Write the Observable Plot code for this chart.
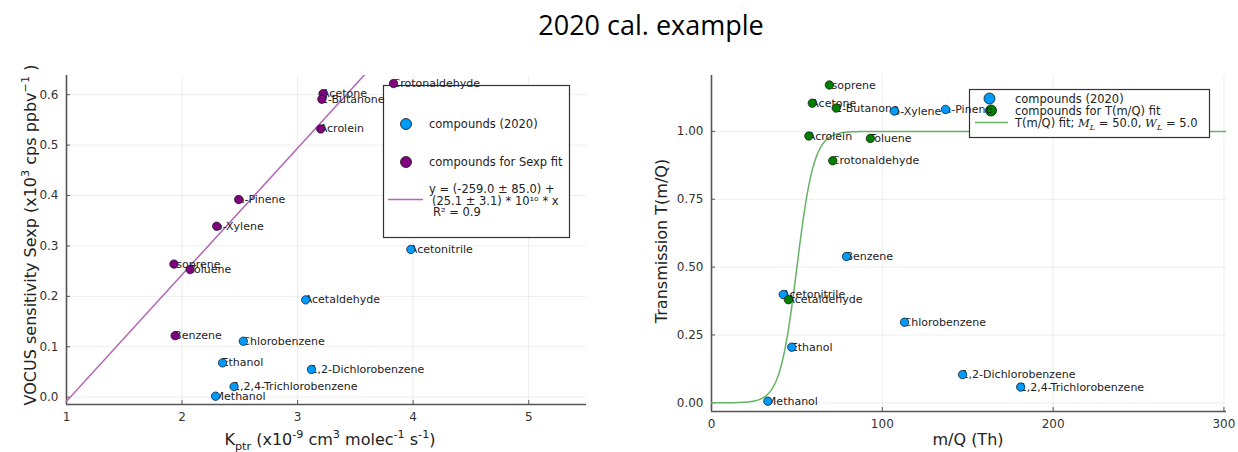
<!DOCTYPE html>
<html><head><meta charset="utf-8">
<script src="https://cdn.jsdelivr.net/npm/d3@7"></script>
<script src="https://cdn.jsdelivr.net/npm/@observablehq/plot@0.6"></script>
<style>
html,body{margin:0;padding:0;background:#fff;}
#wrap{position:relative;width:1238px;height:452px;overflow:hidden;background:#fff;}
#title{position:absolute;left:32px;top:0;width:1238px;height:50px;line-height:50px;text-align:center;font-family:"Open Sans";font-size:27px;color:#000;}
#left{position:absolute;left:0;top:50px;}
#right{position:absolute;left:620px;top:50px;}
</style></head><body>
<div id="wrap"><div id="title">2020 cal. example</div><div id="left"></div><div id="right"></div></div>
<script>
// ---------- data ----------
const compounds = ["Methanol","Acetonitrile","Acetaldehyde","Ethanol","Acrolein","Acetone","Isoprene","Crotonaldehyde","2-Butanone","Benzene","Toluene","o-Xylene","Chlorobenzene","a-Pinene","1,2-Dichlorobenzene","1,2,4-Trichlorobenzene"];
const mq = [33,42,45,47,57,59,69,71,73,79,93,107,113,137,147,181];
const kptr = [2.29,3.98,3.07,2.35,3.20,3.22,1.93,3.83,3.21,1.94,2.07,2.30,2.53,2.49,3.12,2.45];
const sexp = [0.002,0.293,0.193,0.068,0.532,0.602,0.264,0.622,0.591,0.122,0.253,0.339,0.111,0.392,0.055,0.021];
const transmission = [0.006,0.399,0.380,0.205,0.983,1.104,1.171,0.892,1.086,0.539,0.974,1.075,0.297,1.081,0.104,0.058];
const inSexpFit = [false,false,false,false,true,true,true,true,true,true,true,true,false,true,false,false];
const inTFit = [false,false,true,false,true,true,true,true,true,false,true,false,false,false,false,false];
// Sexp fit: y = a + b*x  (x10^3 cps/ppbv, x in 1e-9 cm3/s)
const sexpIntercept = -0.259, sexpSlope = 0.251;
// Transmission fit
const ML = 50.0, WL = 5.0;
const xTicksL = [1,2,3,4,5], yTicksL = [0,0.1,0.2,0.3,0.4,0.5,0.6];
const xTicksR = [0,100,200,300], yTicksR = [0,0.25,0.5,0.75,1.0];
const xDomL = [1,5.5], yDomL = [-0.0145,0.638];
const xDomR = [0,301.5], yDomR = [-0.032,1.206];

const blue = "#009afa", purple = "#800080", green = "#008000";
const purpleLine = "#b366b3", greenLine = "#66b366";
const axisCol = "#555";

const rows = compounds.map((c,i)=>({name:c, k:kptr[i], s:sexp[i], m:mq[i], t:transmission[i], sf:inSexpFit[i], tf:inTFit[i]}));
const fitL = xDomL.map(x=>({x, y: sexpIntercept + sexpSlope*x}));
const fitR = d3.range(xDomR[0], xDomR[1]+0.25, 0.5).map(m=>({x:m, y: 1/(1+Math.exp(-(m-ML)/WL))}));

const baseStyle = {fontFamily:"DejaVu Sans", fontSize:"12px", color:"#333", background:"transparent"};

const left = Plot.plot({
  width:620, height:402, marginLeft:66, marginRight:34, marginTop:25, marginBottom:48,
  x:{domain:xDomL}, y:{domain:yDomL},
  style: baseStyle,
  marks:[
    Plot.gridX(xTicksL,{stroke:"#000", strokeOpacity:0.07}),
    Plot.gridY(yTicksL,{stroke:"#000", strokeOpacity:0.07}),
    Plot.axisX({ticks:xTicksL, tickSize:-4, tickPadding:12, label:null, tickFormat:d3.format("d"), stroke:axisCol, fontSize:12}),
    Plot.axisY({ticks:yTicksL, tickSize:-4, tickPadding:12, label:null, tickFormat:d3.format(".1f"), stroke:axisCol, fontSize:12}),
    Plot.ruleX([xDomL[0]],{stroke:axisCol, strokeWidth:1.6}),
    Plot.ruleY([yDomL[0]],{stroke:axisCol, strokeWidth:1.6}),
    Plot.line(fitL,{x:"x", y:"y", stroke:purpleLine, strokeWidth:1.5, clip:true}),
    Plot.text(rows,{x:"k", y:"s", text:"name", textAnchor:"start", dx:-1, fill:"#222", fontSize:11}),
    Plot.dot(rows.filter(d=>!d.sf),{x:"k", y:"s", r:4.2, fill:blue, stroke:"#111", strokeWidth:0.7}),
    Plot.dot(rows.filter(d=>d.sf),{x:"k", y:"s", r:4.2, fill:purple, stroke:"#111", strokeWidth:0.7})
  ]
});

const right = Plot.plot({
  width:618, height:402, marginLeft:91, marginRight:12, marginTop:25, marginBottom:41,
  x:{domain:xDomR}, y:{domain:yDomR},
  style: baseStyle,
  marks:[
    Plot.gridX(xTicksR,{stroke:"#000", strokeOpacity:0.07}),
    Plot.gridY(yTicksR,{stroke:"#000", strokeOpacity:0.07}),
    Plot.axisX({ticks:xTicksR, tickSize:-4, tickPadding:12, label:null, tickFormat:d3.format("d"), stroke:axisCol, fontSize:12}),
    Plot.axisY({ticks:yTicksR, tickSize:-4, tickPadding:12, label:null, tickFormat:d3.format(".2f"), stroke:axisCol, fontSize:12}),
    Plot.ruleX([xDomR[0]],{stroke:axisCol, strokeWidth:1.6}),
    Plot.ruleY([yDomR[0]],{stroke:axisCol, strokeWidth:1.6}),
    Plot.line(fitR,{x:"x", y:"y", stroke:greenLine, strokeWidth:1.5, clip:true}),
    Plot.text(rows,{x:"m", y:"t", text:"name", textAnchor:"start", dx:-1, fill:"#222", fontSize:11}),
    Plot.dot(rows.filter(d=>!d.tf),{x:"m", y:"t", r:4.2, fill:blue, stroke:"#111", strokeWidth:0.7}),
    Plot.dot(rows.filter(d=>d.tf),{x:"m", y:"t", r:4.2, fill:green, stroke:"#111", strokeWidth:0.7})
  ]
});

document.getElementById("left").appendChild(left);
document.getElementById("right").appendChild(right);

// ---------- helpers ----------
function richText(parent, parts, attrs){
  const t = parent.append("text");
  Object.entries(attrs).forEach(([k,v])=>t.attr(k,v));
  let shift = 0;
  parts.forEach(p=>{
    const s = t.append("tspan").text(p.t);
    const target = p.sup ? -0.45 : p.sub ? 0.3 : 0;
    const dy = target - shift;
    shift = target;
    if (p.sup || p.sub) {
      s.attr("font-size","0.7em");
      if (dy !== 0) s.attr("dy", (dy/0.7)+"em");
    } else if (dy !== 0) s.attr("dy", dy+"em");
    if (p.it) s.attr("font-style","italic").attr("font-family","DejaVu Serif");
  });
  return t;
}
function legendGroup(svgNode){
  const svg = d3.select(svgNode);
  const before = svgNode.querySelector(":scope > g[aria-label='text']");
  const g = before ? svg.insert("g", ()=>before) : svg.append("g");
  return g.attr("text-anchor","start");
}

// ---------- left labels & legend ----------
{
  const svg = d3.select(left);
  richText(svg, [{t:"VOCUS sensitivity Sexp (x10"},{t:"3",sup:true},{t:" cps ppbv"},{t:"−1",sup:true},{t:" )"}],
    {transform:"translate(36,185) rotate(-90)", "text-anchor":"middle", "font-family":"DejaVu Sans", "font-size":"16px", fill:"#222"});
  richText(svg, [{t:"K"},{t:"ptr",sub:true},{t:" (x10"},{t:"-9",sup:true},{t:" cm"},{t:"3",sup:true},{t:" molec"},{t:"-1",sup:true},{t:" s"},{t:"-1",sup:true},{t:")"}],
    {x:330, y:395, "text-anchor":"middle", "font-family":"DejaVu Sans", "font-size":"16px", fill:"#222"});
  const g = legendGroup(left);
  g.append("rect").attr("x",383.5).attr("y",35.5).attr("width",186).attr("height",152).attr("fill","#fff").attr("stroke","#333").attr("stroke-width",1.2);
  g.append("circle").attr("cx",406).attr("cy",74).attr("r",5.5).attr("fill",blue).attr("stroke","#111").attr("stroke-width",0.8);
  g.append("circle").attr("cx",406).attr("cy",112).attr("r",5.5).attr("fill",purple).attr("stroke","#111").attr("stroke-width",0.8);
  g.append("line").attr("x1",388).attr("x2",423).attr("y1",149.5).attr("y2",149.5).attr("stroke",purpleLine).attr("stroke-width",1.5);
  const tx = {"font-family":"DejaVu Sans","font-size":"11.5px",fill:"#222","dominant-baseline":"central","text-anchor":"start"};
  const T = (x,y,s)=>{const t=g.append("text").attr("x",x).attr("y",y).text(s); Object.entries(tx).forEach(([k,v])=>t.attr(k,v));};
  T(429,74,"compounds (2020)");
  T(429,112,"compounds for Sexp fit");
  T(429,139,"y = (-259.0 ± 85.0) +");
  T(432,150.5,"(25.1 ± 3.1) * 10¹⁰ * x");
  T(433,162,"R² = 0.9");
}

// ---------- right labels & legend ----------
{
  const svg = d3.select(right);
  richText(svg, [{t:"Transmission T(m/Q)"}],
    {transform:"translate(47,191) rotate(-90)", "text-anchor":"middle", "font-family":"DejaVu Sans", "font-size":"16px", fill:"#222"});
  richText(svg, [{t:"m/Q (Th)"}],
    {x:348, y:395, "text-anchor":"middle", "font-family":"DejaVu Sans", "font-size":"16px", fill:"#222"});
  const g = legendGroup(right);
  g.append("rect").attr("x",349.5).attr("y",39.5).attr("width",240).attr("height",48).attr("fill","#fff").attr("stroke","#333").attr("stroke-width",1.2);
  g.append("circle").attr("cx",369.5).attr("cy",48.5).attr("r",5.5).attr("fill",blue).attr("stroke","#111").attr("stroke-width",0.8);
  g.append("circle").attr("cx",371).attr("cy",60.5).attr("r",5.5).attr("fill",green).attr("stroke","#111").attr("stroke-width",0.8);
  g.append("line").attr("x1",355).attr("x2",388).attr("y1",72.5).attr("y2",72.5).attr("stroke",greenLine).attr("stroke-width",1.5);
  const tx = {"font-family":"DejaVu Sans","font-size":"11.5px",fill:"#222","dominant-baseline":"central","text-anchor":"start"};
  const T = (x,y,s)=>{const t=g.append("text").attr("x",x).attr("y",y).text(s); Object.entries(tx).forEach(([k,v])=>t.attr(k,v));};
  T(395,49,"compounds (2020)");
  T(395,61,"compounds for T(m/Q) fit");
  richText(g, [{t:"T(m/Q) fit; "},{t:"M",it:true},{t:"L",sub:true,it:true},{t:" = 50.0, "},{t:"W",it:true},{t:"L",sub:true,it:true},{t:" = 5.0"}],
    {x:395, y:77, "font-family":"DejaVu Sans", "font-size":"11.5px", fill:"#222", "text-anchor":"start"});
}
</script>
</body></html>
